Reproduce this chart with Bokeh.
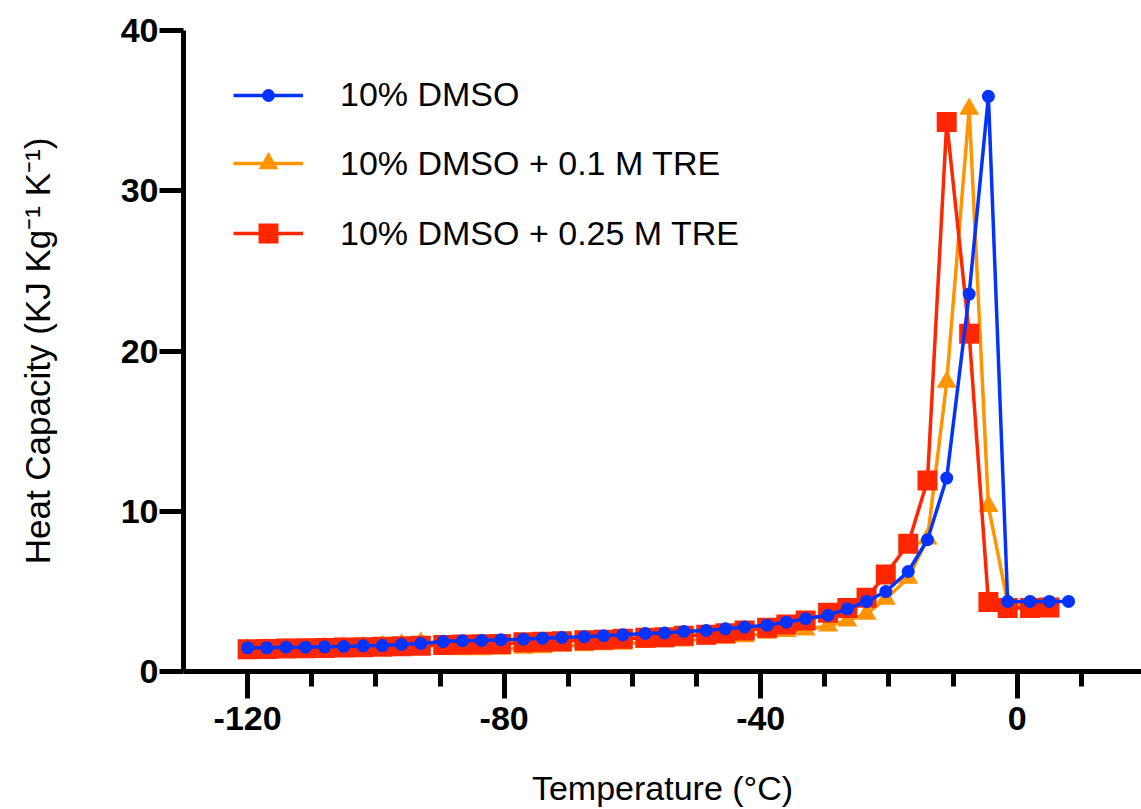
from bokeh.plotting import figure
from bokeh.models import Range1d, FixedTicker, Legend, LegendItem, ColumnDataSource
from bokeh.embed import file_html
from bokeh.resources import INLINE

# ---- data ----
temp_dmso = [-120, -117, -114, -111, -108, -105, -102, -99, -96, -93,
             -89.5, -86.5, -83.5, -80.5, -77, -74, -71, -67.5, -64.5, -61.5,
             -58, -55, -52, -48.5, -45.5, -42.5, -39, -36, -33, -29.5,
             -26.5, -23.5, -20.5, -17, -14, -11, -7.5, -4.5, -1.5, 2, 5, 8]
cp_dmso = [1.48, 1.48, 1.52, 1.52, 1.54, 1.56, 1.60, 1.62, 1.69, 1.75,
           1.87, 1.92, 1.94, 1.98, 2.02, 2.08, 2.12, 2.17, 2.23, 2.29,
           2.37, 2.41, 2.50, 2.56, 2.66, 2.77, 2.89, 3.08, 3.29, 3.51,
           3.91, 4.37, 4.99, 6.24, 8.22, 12.07, 23.55, 35.89, 4.37, 4.37, 4.37, 4.37]

temp_tre01 = [-120, -117, -114, -111, -108, -105, -102, -99, -96, -93,
              -89.5, -86.5, -83.5, -80.5, -77, -74, -71, -67.5, -64.5, -61.5,
              -58, -55, -52, -48.5, -45.5, -42.5, -39, -36, -33, -29.5,
              -26.5, -23.5, -20.5, -17, -14, -11, -7.5, -4.5, -1.5, 2, 5]
cp_tre01 = [1.37, 1.37, 1.40, 1.40, 1.45, 1.49, 1.49, 1.57, 1.67, 1.78,
            1.64, 1.37, 1.38, 1.40, 1.47, 1.50, 1.60, 1.62, 1.68, 1.72,
            1.82, 1.88, 1.92, 2.05, 2.09, 2.19, 2.40, 2.51, 2.61, 2.86,
            3.17, 3.59, 4.53, 5.84, 8.29, 18.06, 35.10, 10.32, 4.30, 4.05, 4.05]

temp_tre025 = [-120, -117, -114, -111, -108, -105, -102, -99, -96, -93,
               -89.5, -86.5, -83.5, -80.5, -77, -74, -71, -67.5, -64.5, -61.5,
               -58, -55, -52, -48.5, -45.5, -42.5, -39, -36, -33, -29.5,
               -26.5, -23.5, -20.5, -17, -14, -11, -7.5, -4.5, -1.5, 2, 5]
cp_tre025 = [1.39, 1.41, 1.43, 1.45, 1.47, 1.49, 1.52, 1.55, 1.57, 1.60,
             1.66, 1.68, 1.70, 1.72, 1.82, 1.85, 1.88, 1.95, 1.98, 2.04,
             2.10, 2.14, 2.23, 2.29, 2.39, 2.56, 2.73, 2.93, 3.18, 3.66,
             3.97, 4.60, 6.05, 7.97, 11.92, 34.29, 21.08, 4.33, 3.97, 3.97, 4.00]

labels = ["10% DMSO", "10% DMSO + 0.1 M TRE", "10% DMSO + 0.25 M TRE"]
x_major = [-120, -80, -40, 0]
x_major_text = ["-120", "-80", "-40", "0"]
x_minor = [-110, -100, -90, -70, -60, -50, -30, -20, -10, 10]
y_major = [0, 10, 20, 30, 40]
y_major_text = ["0", "10", "20", "30", "40"]

BLUE = "#0433FF"
ORANGE = "#FF9300"
RED = "#FF2600"
FONT = "Liberation Sans"

p = figure(width=1141, height=809, output_backend="svg", toolbar_location=None,
           x_range=Range1d(-130, 19.37), y_range=Range1d(0, 40),
           min_border_left=183, min_border_right=0, min_border_top=30,
           min_border_bottom=138)
p.outline_line_color = None
p.xgrid.visible = False
p.ygrid.visible = False
p.background_fill_color = "white"
p.border_fill_color = "white"

src_b = ColumnDataSource(dict(x=temp_dmso, y=cp_dmso))
src_o = ColumnDataSource(dict(x=temp_tre01, y=cp_tre01))
src_r = ColumnDataSource(dict(x=temp_tre025, y=cp_tre025))

lo = p.line("x", "y", source=src_o, line_color=ORANGE, line_width=3.5)
mo = p.scatter("x", "y", source=src_o, marker="triangle", size=20,
               fill_color=ORANGE, line_color=None)
lr = p.line("x", "y", source=src_r, line_color=RED, line_width=3.5)
mr = p.scatter("x", "y", source=src_r, marker="square", size=20,
               fill_color=RED, line_color=None)
lb = p.line("x", "y", source=src_b, line_color=BLUE, line_width=3.5)
mb = p.scatter("x", "y", source=src_b, marker="circle", size=13,
               fill_color=BLUE, line_color=None)

# axes
for ax in (p.xaxis[0], p.yaxis[0]):
    ax.axis_line_width = 5
    ax.axis_line_color = "black"
    ax.major_tick_line_width = 5
    ax.minor_tick_line_width = 5
    ax.major_tick_in = 0
    ax.minor_tick_in = 0
    ax.major_label_text_font = FONT
    ax.major_label_text_font_style = "bold"
    ax.major_label_text_font_size = "34px"
    ax.major_label_text_color = "black"
    ax.axis_label_text_font = FONT
    ax.axis_label_text_font_style = "normal"
    ax.axis_label_text_color = "black"

p.xaxis.ticker = FixedTicker(ticks=x_major, minor_ticks=x_minor)
p.xaxis.major_label_overrides = dict(zip(x_major, x_major_text))
p.xaxis.major_tick_out = 27
p.xaxis.minor_tick_out = 15
p.xaxis.major_label_standoff = 8
p.xaxis.axis_label = "Temperature (°C)"
p.xaxis.axis_label_text_font_size = "34px"
p.xaxis.axis_label_standoff = 36

p.yaxis.ticker = FixedTicker(ticks=y_major, minor_ticks=[])
p.yaxis.major_label_overrides = dict(zip(y_major, y_major_text))
p.yaxis.major_tick_out = 24
p.yaxis.minor_tick_out = 0
p.yaxis.major_label_standoff = 1
p.yaxis.axis_label = "Heat Capacity (KJ Kg⁻¹ K⁻¹)"
p.yaxis.axis_label_text_font_size = "35px"
p.yaxis.axis_label_standoff = 61

# legends: one per series so each keeps its own symbol size
def make_legend(label, renderers, gh, loc):
    lg = Legend(items=[LegendItem(label=label, renderers=renderers)],
                location=loc, glyph_width=70, glyph_height=gh,
                label_standoff=37, padding=0, margin=0, spacing=0,
                label_text_font=FONT, label_text_font_size="34px",
                label_text_color="black", border_line_color=None,
                background_fill_alpha=0)
    p.add_layout(lg)

make_legend(labels[0], [lb, mb], 32, (50, 557))
make_legend(labels[1], [lo, mo], 50, (50, 483))
make_legend(labels[2], [lr, mr], 50, (50, 413))

open("out.html", "w").write(file_html(p, INLINE))
